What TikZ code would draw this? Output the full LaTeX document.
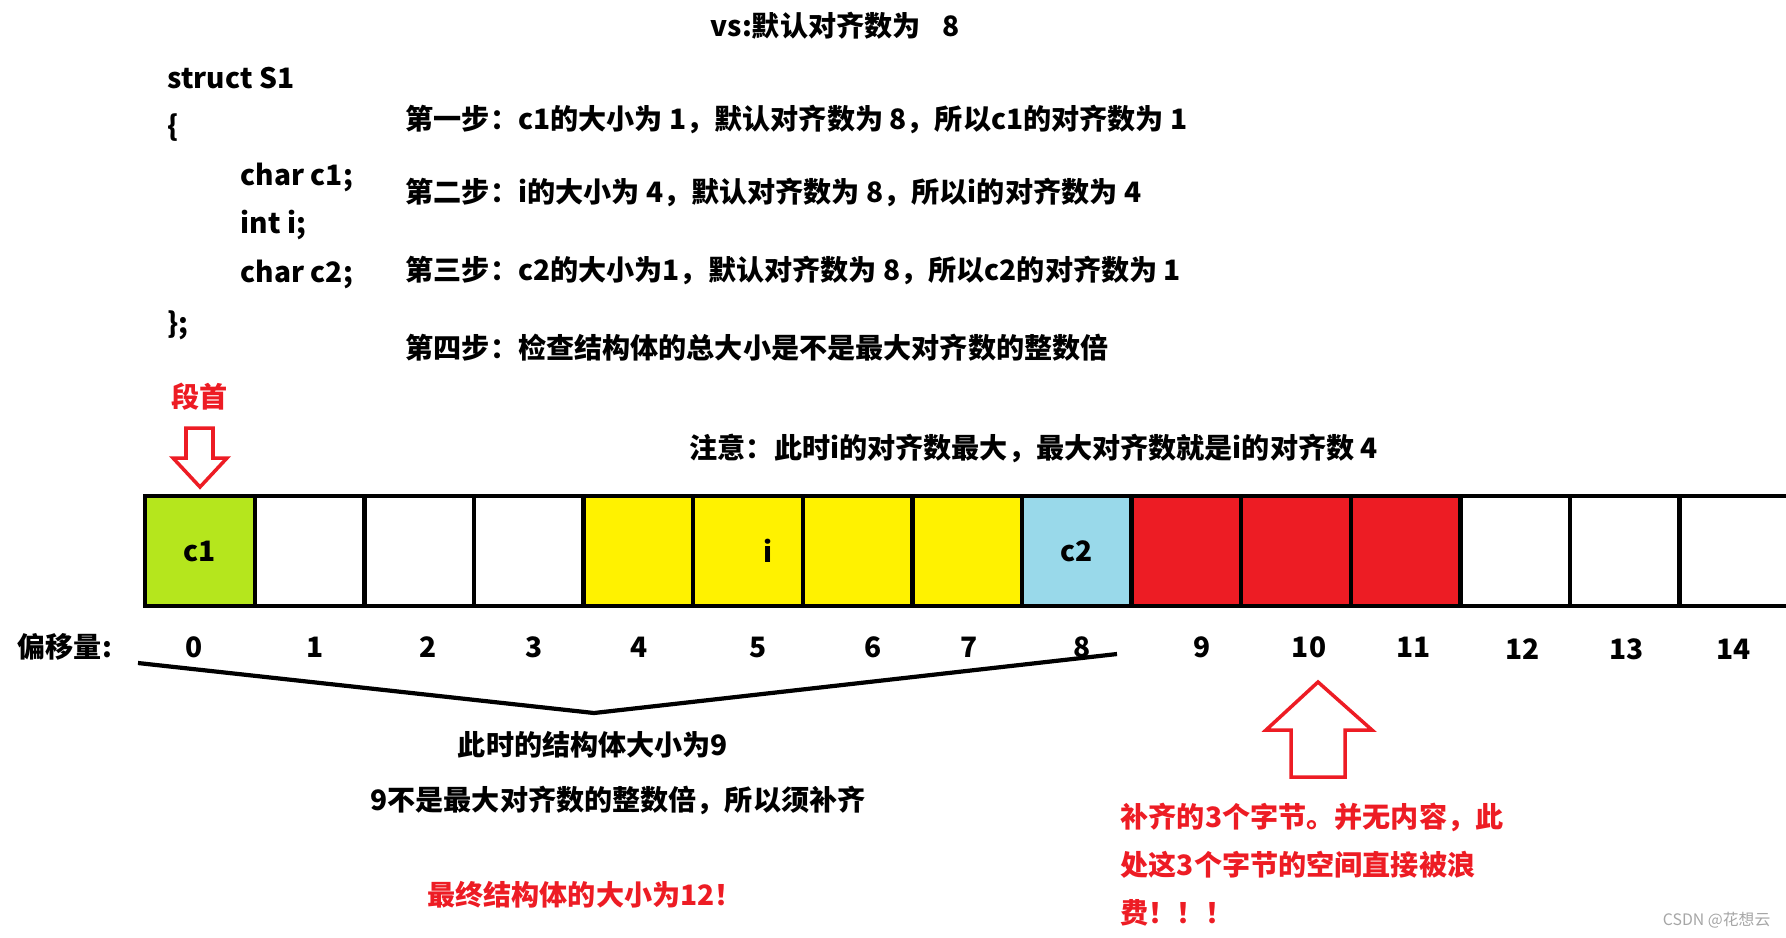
\documentclass[tikz,border=0pt]{standalone}
\usepackage{fontspec}
\setmainfont{Noto Sans CJK SC}
\usetikzlibrary{positioning}

\definecolor{pgreen}{HTML}{B5E61D}
\definecolor{pyellow}{HTML}{FFF200}
\definecolor{pblue}{HTML}{99D9EA}
\definecolor{pred}{HTML}{ED1C24}
\newcommand\figfont{\fontsize{8pt}{10pt}\selectfont\bfseries}

\begin{document}
\begin{tikzpicture}[
    x=0.1mm, y=-0.1mm,
    plaintext/.style={font=\figfont, inner sep=0pt, anchor=west},
    rednote/.style={plaintext, text=pred},
    cellbox/.style={draw, line width=1.3pt, minimum width=10.96mm, minimum height=11mm, inner sep=0pt, outer sep=0pt, font=\figfont},
    offset/.style={font=\figfont, inner sep=0pt},
    hollow/.style={draw=pred, line width=1pt, line join=miter},
    bracket/.style={line width=1.2pt},
    node distance=0pt,
    num distance/.store in=\numdist, num distance=4.1mm
]
    \clip (0,0) rectangle (1786,937);

    % Title and struct definition
    \node[plaintext] (title) at (710,26) {vs:默认对齐数为\hspace{2.2mm}8};
    \node[plaintext] (code1) at (167,78) {struct S1};
    \node[plaintext] (code2) at (167,128) {\{};
    \node[plaintext] (code3) at (240,177) {char c1;};
    \node[plaintext] (code4) at (240,225) {int i;};
    \node[plaintext] (code5) at (240,274) {char c2;};
    \node[plaintext] (code6) at (167,325) {\};};

    % Steps
    \node[plaintext] (step1) at (405,119) {第一步：c1的大小为 1，默认对齐数为 8，所以c1的对齐数为 1};
    \node[plaintext] (step2) at (405,192) {第二步：i的大小为 4，默认对齐数为 8，所以i的对齐数为 4};
    \node[plaintext] (step3) at (405,270) {第三步：c2的大小为1，默认对齐数为 8，所以c2的对齐数为 1};
    \node[plaintext] (step4) at (405,348) {第四步：检查结构体的总大小是不是最大对齐数的整数倍};
    \node[plaintext] (hint) at (689,448) {注意：此时i的对齐数最大，最大对齐数就是i的对齐数 4};

    % Start marker
    \node[rednote] (start) at (171,397) {段首};
    \draw[hollow] (186,428) -- (213,428) -- (213,458) -- (227,458) -- (200,487)
        -- (173,458) -- (186,458) -- cycle;

    % Memory cells - relative positioning
    \node[cellbox, fill=pgreen] (cell0) at (200,551) {c1};
    \foreach \k/\col/\lbl in {1/white/{}, 2/white/{}, 3/white/{}, 4/pyellow/{}, 5/pyellow/{},
        6/pyellow/{}, 7/pyellow/{}, 8/pblue/c2, 9/pred/{}, 10/pred/{}, 11/pred/{},
        12/white/{}, 13/white/{}, 14/white/{}} {
        \pgfmathtruncatemacro\prev{\k-1}
        \node[cellbox, fill=\col, right=of cell\prev] (cell\k) {\lbl};
    }
    \node[offset] (ilabel) at ([xshift=2mm]cell5.center) {i};

    % Offsets below the cells
    \node[plaintext] (offlabel) at (17,647) {偏移量:};
    \foreach \k/\dx/\dy in {0/-0.6/0, 1/0.5/0, 2/0.9/0, 3/0.5/0, 4/0.1/0, 5/1.0/0, 6/1.5/0, 7/0.2/0,
        8/0.5/0, 9/1.6/0, 10/1.3/0, 11/0.8/0, 12/0.7/0.2, 13/0.2/0.2, 14/-0.1/0.2}
        \node[offset, below=\numdist of cell\k.south, anchor=center, xshift=\dx mm, yshift=-\dy mm] (num\k) {\k};

    % Size so far
    \coordinate (brL) at (138,663);
    \coordinate (brM) at (594,713);
    \coordinate (brR) at (1117,654);
    \draw[bracket] (brL) -- (brM) -- (brR);
    \node[offset] (size9) at (593,745) {此时的结构体大小为9};
    \node[offset] (notmul) at (618,800) {9不是最大对齐数的整数倍，所以须补齐};
    \node[offset, text=pred] (final) at (585,895) {最终结构体的大小为12！};

    % Padding marker
    \draw[hollow] (1318,682) -- (1372,730) -- (1345,730) -- (1345,777) -- (1291,777)
        -- (1291,730) -- (1266,730) -- cycle;
    \node[rednote] (pad1) at (1120,817) {补齐的3个字节。并无内容，此};
    \node[rednote] (pad2) at (1120,865) {处这3个字节的空间直接被浪};
    \node[rednote] (pad3) at (1120,913) {费！！！};

    \node[inner sep=0pt, anchor=east, text=gray!70, font=\fontsize{4.5pt}{5pt}\selectfont] (mark) at (1771,920) {CSDN @花想云};
\end{tikzpicture}
\end{document}
